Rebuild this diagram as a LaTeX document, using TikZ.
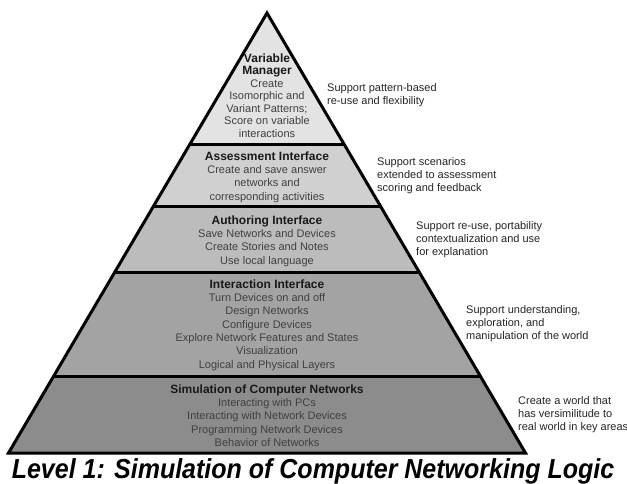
\documentclass[tikz,border=0pt]{standalone}
\usepackage{fontspec}
\setmainfont{Liberation Sans}
\definecolor{lvA}{HTML}{E3E3E3}
\definecolor{lvB}{HTML}{D0D0D0}
\definecolor{lvC}{HTML}{BCBCBC}
\definecolor{lvD}{HTML}{A3A3A3}
\definecolor{lvE}{HTML}{8C8C8C}
\begin{document}
\begin{tikzpicture}[x=1pt,y=-1pt,
  lvltext/.style={align=center, inner sep=0pt, text=black!75, font=\fontsize{11}{13.3}\selectfont},
  note/.style={align=left, anchor=west, inner sep=0pt, text=black!85, font=\fontsize{11}{13}\selectfont},
  edge/.style={line width=3pt, black}]
\newcommand{\lvtitle}[1]{{\color{black!90}\fontsize{12}{13.3}\selectfont\bfseries #1}}
\useasboundingbox (0,0) rectangle (627,484);
\fill[white] (0,0) rectangle (627,484);
% corners
\coordinate (apex) at (267,13);
\coordinate (aL) at (189.45,145); \coordinate (aR) at (344.55,145);
\coordinate (bL) at (153.0,207);  \coordinate (bR) at (381.0,207);
\coordinate (cL) at (114.8,272);  \coordinate (cR) at (419.2,272);
\coordinate (dL) at (53.7,376);   \coordinate (dR) at (480.3,376);
\coordinate (eL) at (8.5,453);    \coordinate (eR) at (525.5,453);
% fills
\fill[lvA] (apex) -- (aR) -- (aL) -- cycle;
\fill[lvB] (aL) -- (aR) -- (bR) -- (bL) -- cycle;
\fill[lvC] (bL) -- (bR) -- (cR) -- (cL) -- cycle;
\fill[lvD] (cL) -- (cR) -- (dR) -- (dL) -- cycle;
\fill[lvE] (dL) -- (dR) -- (eR) -- (eL) -- cycle;
% separators and outline
\draw[edge] (aL) -- (aR);
\draw[edge] (bL) -- (bR);
\draw[edge] (cL) -- (cR);
\draw[edge] (dL) -- (dR);
\draw[edge] (apex) -- (eR) -- (eL) -- cycle;
% level texts
\node[lvltext, font=\fontsize{11}{12.5}\selectfont] (vm) at (267,95.5)
  {\lvtitle{Variable}\\\lvtitle{Manager}\\Create\\Isomorphic and\\Variant Patterns;\\Score on variable\\interactions};
\node[lvltext] (ai) at (267,177)
  {\lvtitle{Assessment Interface}\\Create and save answer\\networks and\\corresponding activities};
\node[lvltext] (au) at (267,241)
  {\lvtitle{Authoring Interface}\\Save Networks and Devices\\Create Stories and Notes\\Use local language};
\node[lvltext] (ii) at (267,325)
  {\lvtitle{Interaction Interface}\\Turn Devices on and off\\Design Networks\\Configure Devices\\Explore Network Features and States\\Visualization\\Logical and Physical Layers};
\node[lvltext] (sc) at (267,415.5)
  {\lvtitle{Simulation of Computer Networks}\\Interacting with PCs\\Interacting with Network Devices\\Programming Network Devices\\Behavior of Networks};
% notes
\node[note] (n1) at (327,95.5) {Support pattern-based\\re-use and flexibility};
\node[note] (n2) at (377,176) {Support scenarios\\extended to assessment\\scoring and feedback};
\node[note] (n3) at (416,240) {Support re-use, portability\\contextualization and use\\for explanation};
\node[note] (n4) at (466,324) {Support understanding,\\exploration, and\\manipulation of the world};
\node[note] (n5) at (518,414.5) {Create a world that\\has versimilitude to\\real world in key areas};
% title
\node[anchor=base, inner sep=0pt, yscale=1.1, font=\fontsize{25}{30}\selectfont\bfseries\itshape] (title) at (313,478)
  {Level 1: Simulation of Computer Networking Logic};
\end{tikzpicture}
\end{document}
